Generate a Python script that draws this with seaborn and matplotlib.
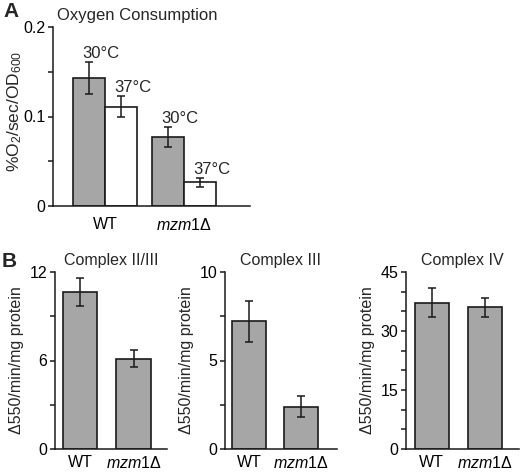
import matplotlib
matplotlib.use("Agg")
import matplotlib.pyplot as plt
import seaborn as sns
import pandas as pd
from matplotlib.ticker import FixedLocator, FuncFormatter

# ---------------- data ----------------
strains = ["WT", "mzm1Δ"]
strain_labels = ["WT", r"$\mathit{mzm1}$Δ"]
temps = ["30°C", "37°C"]
o2_30 = [0.143, 0.077]
o2_30_err = [0.018, 0.011]
o2_37 = [0.111, 0.0265]
o2_37_err = [0.012, 0.005]
o2_ticks = [0, 0.1, 0.2]
o2_minor = [0.05, 0.15]

cplx_titles = ["Complex II/III", "Complex III", "Complex IV"]
cplx_23 = [10.65, 6.12]
cplx_23_err = [0.93, 0.56]
cplx_3 = [7.22, 2.40]
cplx_3_err = [1.16, 0.62]
cplx_4 = [37.2, 36.0]
cplx_4_err = [3.7, 2.4]
cplx_ticks = [[0, 6, 12], [0, 5, 10], [0, 15, 30, 45]]
cplx_minor = [[3, 9], [2.5, 7.5], [5, 10, 20, 25, 35, 40]]

# ---------------- style ----------------
sns.set_style("ticks")
plt.rcParams["font.family"] = ["Liberation Sans", "DejaVu Sans"]
plt.rcParams["mathtext.fontset"] = "custom"
plt.rcParams["mathtext.rm"] = "Liberation Sans"
plt.rcParams["mathtext.it"] = "Liberation Sans:italic"
plt.rcParams["mathtext.bf"] = "Liberation Sans:bold"

GRAY = "#a6a6a6"
INK = "#1a1a1a"
W, H = 520, 472
fig = plt.figure(figsize=(W / 100, H / 100), dpi=100)

fmt = FuncFormatter(lambda v, p: f"{v:g}")


def px_axes(left, right, top, bottom):
    return fig.add_axes([left / W, 1 - bottom / H, (right - left) / W, (bottom - top) / H])


def style_axes(ax, xpad, major, minor):
    sns.despine(ax=ax)
    for s in ["left", "bottom"]:
        ax.spines[s].set_linewidth(1.1)
        ax.spines[s].set_color(INK)
    ax.yaxis.set_major_locator(FixedLocator(major))
    ax.yaxis.set_minor_locator(FixedLocator(minor))
    ax.yaxis.set_major_formatter(fmt)
    ax.tick_params(axis="y", which="major", left=True, length=3.5, width=1.1, pad=2,
                   labelsize=11.5, color=INK, labelcolor="black")
    ax.tick_params(axis="y", which="minor", left=True, length=3.5, width=1.1, color=INK)
    ax.tick_params(axis="x", length=0, pad=xpad, labelsize=11.5, labelcolor="black")
    ax.set_xlabel("")


def add_errs(ax, patches, errs):
    xs = [p.get_x() + p.get_width() / 2 for p in patches]
    ys = [p.get_height() for p in patches]
    ax.errorbar(xs, ys, yerr=errs, fmt="none", ecolor=INK, elinewidth=1.1,
                capsize=2.9, capthick=1.1, zorder=5)
    return xs, ys


# ---------------- Panel A ----------------
dfA = pd.DataFrame({
    "strain": strains * 2,
    "temp": [temps[0]] * 2 + [temps[1]] * 2,
    "value": o2_30 + o2_37,
    "err": o2_30_err + o2_37_err,
})
axA = px_axes(53, 250, 27, 206)
sns.barplot(data=dfA, x="strain", y="value", hue="temp", order=strains, hue_order=temps,
            palette=[GRAY, "white"], edgecolor=INK, linewidth=1.2, width=0.8,
            errorbar=None, legend=False, saturation=1, ax=axA)
axA.set_ylim(0, 0.2)
axA.set_xlim(-0.658, 1.835)
axA.set_xticks(range(len(strains)))
axA.set_xticklabels(strain_labels)
style_axes(axA, 8, o2_ticks, o2_minor)
axA.set_ylabel(r"%O$_2$/sec/OD$_{600}$", fontsize=12.5)
axA.yaxis.set_label_coords(-0.145, 0.53)
axA.set_title("Oxygen Consumption", fontsize=12, loc="left", x=0.02, pad=5)

# seaborn draws hue groups in order: all 30°C bars, then all 37°C bars
barsA = [p for p in axA.patches][: len(dfA)]
xs, ys = add_errs(axA, barsA, list(dfA["err"]))
for x, y, e, lab in zip(xs, ys, dfA["err"], dfA["temp"]):
    axA.text(x + 0.15, y + e + 0.0045, lab, ha="center", va="baseline", fontsize=12)

fig.text(3 / W, 1 - 17 / H, "A", fontsize=15, fontweight="bold", ha="left", va="baseline")

# ---------------- Panel B ----------------
panels = [
    (cplx_23, cplx_23_err, 12, (55, 167), (-0.467, 1.626)),
    (cplx_3, cplx_3_err, 10, (225, 337), (-0.46, 1.69)),
    (cplx_4, cplx_4_err, 45, (406, 519), (-0.486, 1.645)),
]
for title, ticks, minors, (vals_b, errs_b, ymax, (l, r), xl) in zip(
        cplx_titles, cplx_ticks, cplx_minor, panels):
    ax = px_axes(l, r, 272, 449)
    dfB = pd.DataFrame({"strain": strains, "value": vals_b})
    sns.barplot(data=dfB, x="strain", y="value", order=strains, color=GRAY,
                edgecolor=INK, linewidth=1.2, width=0.65, errorbar=None,
                saturation=1, ax=ax)
    ax.set_ylim(0, ymax)
    ax.set_xlim(*xl)
    ax.set_xticks(range(len(strains)))
    ax.set_xticklabels(strain_labels)
    style_axes(ax, 4, ticks, minors)
    ax.set_ylabel("Δ550/min/mg protein", fontsize=11.5, labelpad=4)
    ax.set_title(title, fontsize=11.5, pad=5)
    add_errs(ax, [p for p in ax.patches], errs_b)

fig.text(2 / W, 1 - 267 / H, "B", fontsize=15, fontweight="bold", ha="left", va="baseline")

fig.savefig("out.png", dpi=100)
